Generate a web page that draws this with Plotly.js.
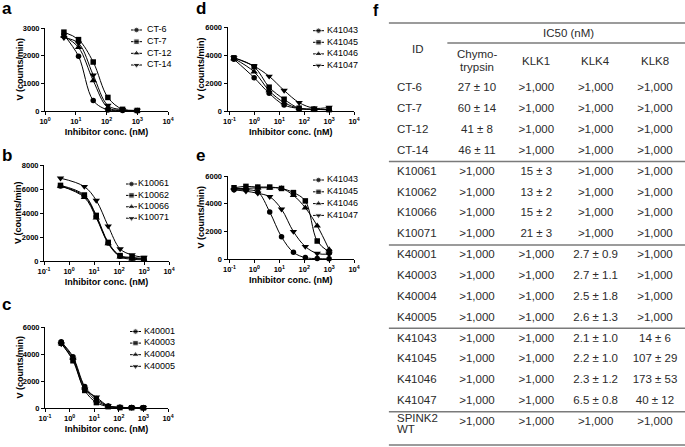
<!DOCTYPE html>
<html>
<head>
<meta charset="utf-8">
<script src="https://cdn.plot.ly/plotly-3.0.1.min.js"></script>
<style>html,body{margin:0;padding:0;background:#fff;}#chart{width:685px;height:447px;}</style>
</head>
<body>
<div id="chart"></div>
<script>
// ---------------- data ----------------
const concA = [4.12, 12.3, 37.0, 111, 333, 1000];
const namesA = ['CT-6', 'CT-7', 'CT-12', 'CT-14'];
const vCT6  = [2750, 1980, 380, 40, 20, 10];
const vCT7  = [2850, 2580, 1770, 490, 60, 20];
const vCT12 = [2700, 2300, 1100, 120, 30, 10];
const vCT14 = [2650, 2450, 1300, 200, 50, 20];

const concB = [0.457, 4.12, 12.3, 37.0, 111, 333, 1000];
const namesB = ['K10061', 'K10062', 'K10066', 'K10071'];
const vK10061 = [6250, 5400, 3700, 1500, 400, 250, 150];
const vK10062 = [6300, 5500, 3800, 1550, 450, 300, 200];
const vK10066 = [6250, 5300, 3600, 1450, 350, 150, 100];
const vK10071 = [6900, 6200, 5050, 2900, 1000, 500, 300];

const concC = [0.457, 1.37, 4.12, 12.3, 37.0, 111, 333, 1000];
const namesC = ['K40001', 'K40003', 'K40004', 'K40005'];
const vK40001 = [4900, 3800, 1600, 700, 150, 50, 30, 20];
const vK40003 = [4800, 3500, 1300, 400, 100, 30, 20, 10];
const vK40004 = [4850, 3700, 1500, 550, 130, 40, 20, 10];
const vK40005 = [4750, 3600, 1400, 800, 160, 50, 30, 20];

const namesDE = ['K41043', 'K41045', 'K41046', 'K41047'];
const concD = [0.15, 0.977, 3.91, 15.6, 62.5, 250, 1000];
const vD41043 = [3700, 2380, 1270, 430, 180, 120, 100];
const vD41045 = [3800, 3160, 1700, 840, 200, 120, 100];
const vD41046 = [3750, 2800, 1450, 600, 190, 120, 90];
const vD41047 = [3800, 3200, 2480, 1470, 600, 200, 260];
const concE = [0.152, 0.457, 1.37, 4.12, 12.3, 37.0, 111, 333, 1000];
const vE41043 = [5000, 5000, 4850, 3400, 1600, 480, 100, 30, 10];
const vE41045 = [5150, 5250, 5200, 5200, 5100, 4800, 4200, 1300, 500];
const vE41046 = [5100, 5100, 5150, 5150, 5100, 4600, 3700, 2400, 680];
const vE41047 = [5000, 4900, 4750, 4500, 3600, 1980, 900, 400, 350];

const xTickVals = [0.1, 1, 10, 100, 1000, 10000];
const xTickText = ['10<sup>-1</sup>', '10<sup>0</sup>', '10<sup>1</sup>', '10<sup>2</sup>', '10<sup>3</sup>', '10<sup>4</sup>'];
const yTitle = 'V (counts/min)';
const xTitle = 'Inhibitor conc. (nM)';

// table
const tblTitle = 'IC50 (nM)';
const tblIdHead = 'ID';
const tblCols = ['Chymo-<br>trypsin', 'KLK1', 'KLK4', 'KLK8'];
const tblId = ['CT-6', 'CT-7', 'CT-12', 'CT-14', 'K10061', 'K10062', 'K10066', 'K10071',
  'K40001', 'K40003', 'K40004', 'K40005', 'K41043', 'K41045', 'K41046', 'K41047', 'SPINK2<br>WT'];
const tblChymo = ['27 ± 10', '60 ± 14', '41 ± 8', '46 ± 11', '>1,000', '>1,000', '>1,000', '>1,000',
  '>1,000', '>1,000', '>1,000', '>1,000', '>1,000', '>1,000', '>1,000', '>1,000', '>1,000'];
const tblKLK1 = ['>1,000', '>1,000', '>1,000', '>1,000', '15 ± 3', '13 ± 2', '15 ± 2', '21 ± 3',
  '>1,000', '>1,000', '>1,000', '>1,000', '>1,000', '>1,000', '>1,000', '>1,000', '>1,000'];
const tblKLK4 = ['>1,000', '>1,000', '>1,000', '>1,000', '>1,000', '>1,000', '>1,000', '>1,000',
  '2.7 ± 0.9', '2.7 ± 1.1', '2.5 ± 1.8', '2.6 ± 1.3', '2.1 ± 1.0', '2.2 ± 1.0', '2.3 ± 1.2', '6.5 ± 0.8', '>1,000'];
const tblKLK8 = ['>1,000', '>1,000', '>1,000', '>1,000', '>1,000', '>1,000', '>1,000', '>1,000',
  '>1,000', '>1,000', '>1,000', '>1,000', '14 ± 6', '107 ± 29', '173 ± 53', '40 ± 12', '>1,000'];
const tblGroups = [4, 4, 4, 4, 1];

// ---------------- layout helpers ----------------
const W = 685, H = 447;
const px = v => v / W;
const py = v => 1 - v / H;
const FONT = 'Arial, "Liberation Sans", Helvetica, sans-serif';
const symbols = ['circle', 'square', 'triangle-up', 'triangle-down'];
const msize = [5.5, 5.5, 6.5, 6.5];

const panels = [
  {letter: 'a', lx: 0, ly: -3, ytx: 19, conc: concA, names: namesA, vals: [vCT6, vCT7, vCT12, vCT14],
   x: [45, 168], xr: [0, 4], y: [28, 111], yr: [0, 3000], ytv: [0, 1000, 2000, 3000],
   leg: {x0: 131, tx: 147, y0: 30, dy: 11.67}},
  {letter: 'b', lx: 0, ly: 144, ytx: 18, conc: concB, names: namesB, vals: [vK10061, vK10062, vK10066, vK10071],
   x: [44, 169], xr: [-1, 4], y: [165, 261], yr: [0, 8000], ytv: [0, 2000, 4000, 6000, 8000],
   leg: {x0: 126, tx: 138, y0: 184, dy: 11.4}},
  {letter: 'c', lx: 0, ly: 293, ytx: 19, conc: concC, names: namesC, vals: [vK40001, vK40003, vK40004, vK40005],
   x: [45, 168], xr: [-1, 4], y: [327, 408], yr: [0, 6000], ytv: [0, 2000, 4000, 6000],
   leg: {x0: 130, tx: 144, y0: 331.5, dy: 11.6}},
  {letter: 'd', lx: 194, ly: -3, ytx: 201, conc: concD, names: namesDE, vals: [vD41043, vD41045, vD41046, vD41047],
   x: [227.5, 354], xr: [-1.08, 4], y: [27, 111], yr: [0, 6000], ytv: [0, 2000, 4000, 6000],
   leg: {x0: 313, tx: 327, y0: 30.7, dy: 11.6}},
  {letter: 'e', lx: 194, ly: 144, ytx: 201, conc: concE, names: namesDE, vals: [vE41043, vE41045, vE41046, vE41047],
   x: [227.5, 354], xr: [-1.08, 4], y: [176, 259], yr: [0, 6000], ytv: [0, 2000, 4000, 6000],
   leg: {x0: 313, tx: 327, y0: 180, dy: 11.8}}
];

const traces = [];
const layout = {
  width: W, height: H, margin: {l: 0, r: 0, t: 0, b: 0},
  paper_bgcolor: '#fff', plot_bgcolor: 'rgba(0,0,0,0)',
  showlegend: false, font: {family: FONT, color: '#000'},
  annotations: [], shapes: []
};

const tickFont = {family: FONT, size: 7.5, color: '#000', weight: 'bold'};
const titleFont = {family: FONT, size: 9, color: '#000', weight: 'bold'};

panels.forEach((p, i) => {
  const n = i + 1;
  const xs = n === 1 ? 'x' : 'x' + n, ys = n === 1 ? 'y' : 'y' + n;
  const xk = n === 1 ? 'xaxis' : 'xaxis' + n, yk = n === 1 ? 'yaxis' : 'yaxis' + n;
  layout[xk] = {
    type: 'log', domain: [px(p.x[0]), px(p.x[1])], range: p.xr, anchor: ys,
    showline: true, linecolor: '#000', linewidth: 1, showgrid: false, zeroline: false,
    ticks: 'outside', ticklen: 3, tickwidth: 1, tickcolor: '#000',
    tickvals: xTickVals, ticktext: xTickText, tickfont: tickFont,
    title: {text: xTitle, font: titleFont, standoff: 3}, fixedrange: true
  };
  layout[yk] = {
    domain: [py(p.y[1]), py(p.y[0])], range: p.yr, anchor: xs,
    showline: true, linecolor: '#000', linewidth: 1, showgrid: false, zeroline: false,
    ticks: 'outside', ticklen: 3, tickwidth: 1, tickcolor: '#000',
    tickvals: p.ytv, tickfont: tickFont, fixedrange: true
  };
  // y-axis title, placed as in the reference (close to the tick labels)
  layout.annotations.push({
    text: yTitle, textangle: -90, xref: 'paper', yref: ys + ' domain', x: px(p.ytx), y: 0.5,
    xanchor: 'center', yanchor: 'middle', showarrow: false, font: titleFont
  });
  p.vals.forEach((v, k) => {
    traces.push({
      type: 'scatter', mode: 'lines+markers', x: p.conc, y: v, xaxis: xs, yaxis: ys,
      name: p.names[k], cliponaxis: false, hoverinfo: 'skip',
      line: {color: '#000', width: 1, shape: 'spline', smoothing: 1},
      marker: {symbol: symbols[k], size: msize[k], color: '#000'}
    });
  });
  // compact legend drawn on its own small axes
  const ln = 6 + n;
  const lxs = 'x' + ln, lys = 'y' + ln;
  const L = p.leg;
  layout['xaxis' + ln] = {domain: [px(L.x0), px(L.x0 + 44)], range: [0, 4], visible: false, fixedrange: true, anchor: lys};
  layout['yaxis' + ln] = {domain: [py(L.y0 + 3.5 * L.dy), py(L.y0 - 0.5 * L.dy)], range: [3.5, -0.5], visible: false, fixedrange: true, anchor: lxs};
  p.names.forEach((nm, k) => {
    traces.push({
      type: 'scatter', mode: 'lines+markers', x: [0, 0.5, 1], y: [k, k, k], xaxis: lxs, yaxis: lys,
      cliponaxis: false, hoverinfo: 'skip', line: {color: '#000', width: 1},
      marker: {symbol: symbols[k], size: [0, msize[k], 0], color: '#000'}
    });
  });
  const txu = (L.tx - L.x0) / 11;
  traces.push({
    type: 'scatter', mode: 'text', x: p.names.map(() => txu), y: p.names.map((_, k) => k),
    text: p.names, textposition: 'middle right', xaxis: lxs, yaxis: lys, cliponaxis: false,
    hoverinfo: 'skip', textfont: {family: FONT, size: 9, color: '#000'}
  });
  layout.annotations.push({
    text: '<b>' + p.letter + '</b>', xref: 'paper', yref: 'paper', x: px(p.lx), y: py(p.ly),
    xanchor: 'left', yanchor: 'top', showarrow: false, font: {family: FONT, size: 17, color: '#000'}
  });
});

// ---------------- table (panel f) ----------------
const rowH = 20.85, row0 = 88.5;        // px of first row centre, row pitch
const colPitch = 59.33, col1 = 477;     // px of first value column centre
const tX0 = 388;
const tXr = [1 - (col1 - tX0) / colPitch, 1 + (W - col1) / colPitch];
const rowOf = v => (v - row0) / rowH;   // px -> row units
const lineSep = 11 / rowH;              // tight line pitch for two-line cells
layout.xaxis6 = {domain: [px(tX0), 1], range: tXr, visible: false, fixedrange: true, anchor: 'y6'};
layout.yaxis6 = {domain: [0, 1], range: [rowOf(H), rowOf(0)], visible: false, fixedrange: true, anchor: 'x6'};
const tFont = {family: FONT, size: 11.5, color: '#2b2b2b'};
const rows = tblId.map((_, i) => i);
const idX = 1 - (col1 - 397) / colPitch;
// ID column: split two-line labels into separate lines with a tight pitch
const idText = [], idY = [];
tblId.forEach((t, i) => {
  const parts = t.split('<br>');
  const shift = parts.length > 1 ? 2.5 / rowH : 0;
  parts.forEach((s, j) => { idText.push(s); idY.push(i + shift + (j - (parts.length - 1) / 2) * lineSep); });
});
traces.push({type: 'scatter', mode: 'text', x: idText.map(() => idX), y: idY, text: idText,
  textposition: 'middle right', xaxis: 'x6', yaxis: 'y6', cliponaxis: false, hoverinfo: 'skip', textfont: tFont});
[tblChymo, tblKLK1, tblKLK4, tblKLK8].forEach((col, k) => {
  traces.push({type: 'scatter', mode: 'text', x: rows.map(() => k + 1), y: rows, text: col,
    textposition: 'middle center', xaxis: 'x6', yaxis: 'y6', cliponaxis: false, hoverinfo: 'skip', textfont: tFont});
});
// header
layout.annotations.push({text: tblTitle, xref: 'x6', yref: 'y6', x: 2.55, y: rowOf(33), showarrow: false, font: tFont});
layout.annotations.push({text: tblIdHead, xref: 'x6', yref: 'y6', x: 1 - (col1 - 418) / colPitch, y: rowOf(49), showarrow: false, font: tFont});
const headMid = rowOf(60.5), headSep = 12.5 / rowH;
tblCols.forEach((c, k) => {
  const parts = c.split('<br>');
  parts.forEach((s, j) => {
    layout.annotations.push({text: s, xref: 'x6', yref: 'y6', x: k + 1,
      y: headMid + (j - (parts.length - 1) / 2) * headSep, showarrow: false, font: tFont});
  });
});
layout.annotations.push({text: '<b>f</b>', xref: 'paper', yref: 'paper', x: px(371), y: 1,
  xanchor: 'left', yanchor: 'top', showarrow: false, font: {family: FONT, size: 16, color: '#000'}});
// rules
const ruleLine = {color: '#7a7a7a', width: 1.5};
layout.shapes.push({type: 'line', xref: 'x6 domain', yref: 'y6', x0: 0.003, x1: 1, y0: rowOf(23), y1: rowOf(23), line: ruleLine});
layout.shapes.push({type: 'line', xref: 'x6', yref: 'y6', x0: 0.5, x1: tXr[1], y0: rowOf(43), y1: rowOf(43), line: ruleLine});
let acc = 0;
tblGroups.forEach((g, gi) => {
  acc += g;
  const yy = gi === tblGroups.length - 1 ? rowOf(445) : acc - 0.5;
  layout.shapes.push({type: 'line', xref: 'x6 domain', yref: 'y6', x0: 0.003, x1: 1, y0: yy, y1: yy, line: ruleLine});
});

Plotly.newPlot('chart', traces, layout, {displayModeBar: false, staticPlot: true});
</script>
</body>
</html>
